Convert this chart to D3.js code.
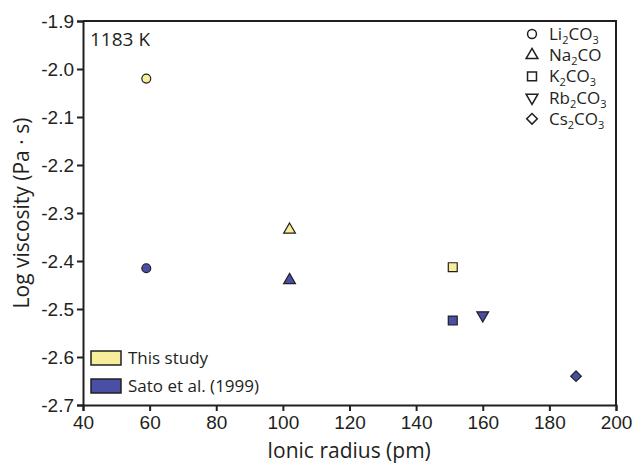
<!DOCTYPE html>
<html>
<head>
<meta charset="utf-8">
<script src="https://cdn.jsdelivr.net/npm/d3@7"></script>
<style>
  body { margin: 0; background: #fff; }
  svg { font-family: 'Open Sans', sans-serif; }
</style>
</head>
<body>
<svg id="plot"></svg>
<script>
// carbonates, in order of cation size
const compounds = ['Li', 'Na', 'K', 'Rb', 'Cs']
const legendLabels = [
  ['Li', '2', 'CO', '3'],
  ['Na', '2', 'CO', ''],
  ['K', '2', 'CO', '3'],
  ['Rb', '2', 'CO', '3'],
  ['Cs', '2', 'CO', '3']
]
const ionicRadius = [59, 102, 151, 160, 188]
// log viscosity, null where there is no point
const thisStudy = [-2.02, -2.335, -2.413, null, null]
const sato = [-2.415, -2.44, -2.524, -2.513, -2.64]
const seriesNames = ['This study', 'Sato et al. (1999)']
const xTicks = [40, 60, 80, 100, 120, 140, 160, 180, 200]
const yTicks = [-1.9, -2.0, -2.1, -2.2, -2.3, -2.4, -2.5, -2.6, -2.7]

const width = 641
const height = 466
const margin = ({top: 21, right: 25, bottom: 61, left: 83})

const yellow = '#f6ee9a'
const blue = '#4a4fa6'
const ink = '#231f20'

const x = d3.scaleLinear()
  .domain([40, 200])
  .range([margin.left, width - margin.right])
const y = d3.scaleLinear()
  .domain([-2.7, -1.9])
  .range([height - margin.bottom, margin.top])

// shape per compound; Rb is a flipped triangle, Cs a turned square
const shapes = [
  {type: d3.symbolCircle, size: 62, rot: 0},
  {type: d3.symbolTriangle, size: 60, rot: 0},
  {type: d3.symbolSquare, size: 80, rot: 0},
  {type: d3.symbolTriangle, size: 60, rot: 180},
  {type: d3.symbolSquare, size: 56, rot: 45}
]

const plot = d3.select('svg#plot')
  .attr('width', width)
  .attr('height', height)

// plain hyphen like the original, not the unicode minus
const yFormat = d => d.toFixed(1)

// axes
plot.append('g')
  .attr('transform', `translate(0, ${height - margin.bottom})`)
  .call(d3.axisBottom(x).tickValues(xTicks).tickSize(6).tickPadding(5))
  .call(g => g.selectAll('text').attr('font-size', 19).attr('fill', ink))
  .call(g => g.selectAll('line, path').attr('stroke', ink).attr('stroke-width', 2))

plot.append('g')
  .attr('transform', `translate(${margin.left}, 0)`)
  .call(d3.axisLeft(y).tickValues(yTicks).tickFormat(yFormat).tickSize(6).tickPadding(3))
  .call(g => g.selectAll('text').attr('font-size', 19).attr('fill', ink))
  .call(g => g.selectAll('line, path').attr('stroke', ink).attr('stroke-width', 2))

// top and right of the frame
plot.append('path')
  .attr('d', `M${x(40)},${y(-1.9)}H${x(200)}V${y(-2.7)}`)
  .attr('fill', 'none')
  .attr('stroke', ink)
  .attr('stroke-width', 2)

// axis titles
plot.append('text')
  .attr('x', 349)
  .attr('y', 458)
  .attr('text-anchor', 'middle')
  .attr('font-size', 21)
  .attr('fill', ink)
  .text('Ionic radius (pm)')

plot.append('text')
  .attr('transform', `translate(29, ${(margin.top + height - margin.bottom) / 2}) rotate(-90)`)
  .attr('text-anchor', 'middle')
  .attr('font-size', 21)
  .attr('fill', ink)
  .text('Log viscosity (Pa · s)')

plot.append('text')
  .attr('x', 90)
  .attr('y', 46)
  .attr('font-size', 19)
  .attr('fill', ink)
  .text('1183 K')

// points
const points = []
compounds.forEach((c, i) => {
  if (thisStudy[i] !== null) points.push({i, v: thisStudy[i], fill: yellow})
  if (sato[i] !== null) points.push({i, v: sato[i], fill: blue})
})

plot.append('g')
  .selectAll('path')
  .data(points)
  .join('path')
    .attr('d', d => d3.symbol(shapes[d.i].type, shapes[d.i].size)())
    .attr('transform', d => `translate(${x(ionicRadius[d.i])}, ${y(d.v)}) rotate(${shapes[d.i].rot})`)
    .attr('fill', d => d.fill)
    .attr('stroke', ink)
    .attr('stroke-width', 1.2)

// symbol legend, top right
const symLegend = plot.append('g')
  .selectAll('g')
  .data(legendLabels)
  .join('g')
    .attr('transform', (d, i) => `translate(532, ${34 + i * 21.2})`)

symLegend.append('path')
  .attr('d', (d, i) => d3.symbol(shapes[i].type, shapes[i].size)())
  .attr('transform', (d, i) => `rotate(${shapes[i].rot})`)
  .attr('fill', '#fff')
  .attr('stroke', ink)
  .attr('stroke-width', 1.5)

const symText = symLegend.append('text')
  .attr('x', 17)
  .attr('y', 6)
  .attr('font-size', 17)
  .attr('fill', ink)

symText.append('tspan').text(d => d[0])
symText.append('tspan').attr('font-size', 11).attr('dy', 4).text(d => d[1])
symText.append('tspan').attr('dy', -4).text(d => d[2])
symText.append('tspan').attr('font-size', 11).attr('dy', 4).text(d => d[3])

// series legend, bottom left
const serLegend = plot.append('g')
  .selectAll('g')
  .data(seriesNames)
  .join('g')
    .attr('transform', (d, i) => `translate(91, ${351 + i * 28})`)

serLegend.append('rect')
  .attr('width', 30)
  .attr('height', 14)
  .attr('fill', (d, i) => i === 0 ? yellow : blue)
  .attr('stroke', ink)
  .attr('stroke-width', 1.5)

serLegend.append('text')
  .attr('x', 37)
  .attr('y', 13)
  .attr('font-size', 17)
  .attr('fill', ink)
  .text(d => d)
</script>
</body>
</html>
